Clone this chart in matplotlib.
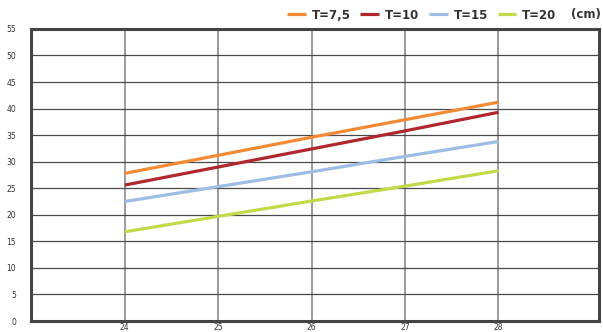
import matplotlib
matplotlib.use('agg')
import matplotlib.pyplot as plt

# data
x_vals = [24, 25, 26, 27, 28]
t75 = [27.8, 31.2, 34.6, 37.9, 41.2]
t10 = [25.6, 29.0, 32.4, 35.8, 39.3]
t15 = [22.5, 25.3, 28.1, 31.0, 33.8]
t20 = [16.8, 19.7, 22.6, 25.4, 28.3]
labels = ['T=7,5', 'T=10', 'T=15', 'T=20']
colours = ['#F58A35', '#B0282D', '#9DBDE4', '#C4D948']
y_ticks = list(range(0, 56, 5))

fig = plt.figure(figsize=(6.03, 3.32), dpi=100)
ax = fig.add_axes([0.052, 0.033, 0.942, 0.880])

for series, lab, col in zip([t75, t10, t15, t20], labels, colours):
  ax.plot(x_vals, series, color=col, lw=2.3, label=lab, solid_capstyle='butt', zorder=3)

ax.set_xlim(23, 29.08)
ax.set_ylim(0, 55)
ax.set_xticks(x_vals)
ax.set_yticks(y_ticks)
ax.tick_params(length=0, labelsize=5.5, colors='#333333')
ax.tick_params(axis='y', pad=11)
ax.tick_params(axis='x', pad=1.5)

ax.grid(axis='y', color='#4a4a4a', lw=0.9)
ax.grid(axis='x', color='#8a8a8a', lw=1.2)
ax.set_axisbelow(True)

for s in ax.spines.values():
  s.set_color('#444444')
  s.set_linewidth(2.2)

leg = ax.legend(loc='lower right', bbox_to_anchor=(0.935, 1.005), ncol=4, frameon=False,
                handlelength=1.6, handletextpad=0.5, columnspacing=0.8,
                borderaxespad=0.1, prop={'size': 8.5, 'weight': 'bold'})
for t in leg.get_texts():
  t.set_color('#333333')
fig.text(0.996, 0.955, '(cm)', ha='right', va='center', fontsize=8.5, weight='bold', color='#333333')

plt.savefig('out.png', dpi=100)
